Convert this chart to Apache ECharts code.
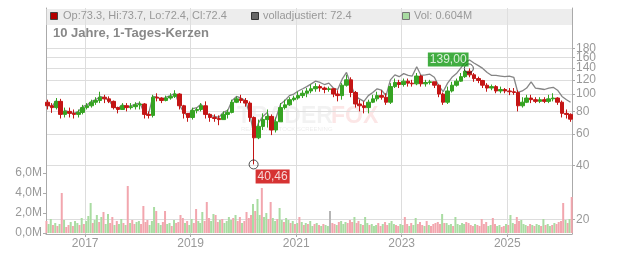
<!DOCTYPE html>
<html><head><meta charset="utf-8">
<script src="https://cdn.jsdelivr.net/npm/echarts@6/dist/echarts.min.js"></script>
<style>html,body{margin:0;padding:0;background:#fff}#c{width:632px;height:253px}</style>
</head><body><div id="c"></div>
<script>
// ---- data (monthly candles from 2016-04) ----
const startYear = 2016, startMonth = 4;
const firstOpen = 90;
const closes = [
  86,84,91,77,80,78,77,79,84,
  86,90,92,96,94,91,84,82,86,84,85,87,
  88,77,76,96,95,92,95,97,100,86,78,74,
  81,82,86,77,74,73,72,77,79,90,94,92,
  89,74,57,66,72,75,63,70,84,87,93,95,
  98,101,104,107,110,108,106,107,100,98,112,120,
  102,88,86,84,90,94,98,96,90,110,116,113,
  118,115,114,126,114,116,117,112,100,90,104,112,
  118,125,134,128,122,119,112,108,110,104,106,104,
  103,102,86,90,95,93,91,93,91,94,95,90,
  78,77,72.4
];
const highs = [
  93,89,95,94,84,84,82,82,87,
  89,93,96,103,99,97,92,85,89,89,89,90,
  91,89,80,99,101,96,98,101,105,101,87,78,
  84,84,89,91,78,77,76,80,82,93,97,99,
  95,91,75,72,78,82,77,74,89,93,96,98,
  103,105,108,113,115,113,110,110,108,105,115,128,
  124,104,93,91,93,99,103,105,101,115,122,120,
  122,122,120,131,128,120,120,117,113,102,110,117,
  122,131,137,139,131,125,120,115,113,112,110,108,
  108,108,105,96,99,99,96,96,96,99,101,96,
  92,82,78
];
const lows = [
  82,78.5,82,73,74,74,73,74,77,
  82,84,87,89,89,89,82,78,82,80,82,82,
  82,73,73,74,91,89,91,93,95,82,73,70,
  72,78,80,73,70,70,67,72,73,78,89,89,
  85,70,40.46,56,63,65,59,61,70,82,86,91,
  93,95,96,101,103,103,101,103,96,91,93,110,
  96,84,80,78,78,89,91,93,87,88,108,108,
  110,110,110,112,110,110,113,108,96,87,88,102,
  110,117,123,124,117,115,108,103,105,101,101,101,
  98.6,99,80,84,89,89,89,89,89,89,91,87,
  74,73,70
];
const adjusted = [
  87,85,92,78,81,79,78,80,85,
  87,91,93,97,95,92,85,83,87,85,86,88,
  89,78,77,97,96,93,96,98,101,87,79,75,
  83,84,88,79,76,75,74,79,81,92,97,95,
  92,77,59,69,75,79,66,74,88,92,98,100,
  104,107,110,114,118,116,113,115,108,106,121,132,
  113,97,94,91,98,102,107,105,98,120,128,125,
  130,127,126,142,127,128,129,124,111,103,115,124,
  130,140,150,155,149,144,139,132,127,127,126,125,
  126,124,102,104,108,117,108,107,106,108,109,105,
  97,93,90
];
// two volume bars per month (millions)
const volumes = [
  1.2,0.9, 1.4,0.8, 1.0,0.7, 0.9,4.0, 1.3,0.6, 0.8,1.1, 0.7,1.2, 1.0,0.8, 1.5,0.9,
  1.2,1.7, 3.0,1.0, 1.3,1.8, 1.1,1.6, 2.1,0.9, 1.9,1.0, 1.6,0.8, 1.2,0.9, 1.4,1.0, 0.8,4.7, 1.0,1.3, 0.9,1.1,
  1.2,0.9, 2.7,1.1, 1.3,0.8, 1.2,2.6, 2.2,1.0, 0.8,1.1, 2.2,0.9, 1.0,0.7, 1.3,1.0, 1.1,1.8, 1.5,1.0, 1.2,0.8,
  1.4,1.0, 2.4,1.2, 1.0,2.1, 1.2,3.1, 1.5,1.2, 1.9,1.8, 1.1,1.3, 1.4,1.0, 1.2,1.6, 1.3,1.5, 1.8,1.2, 1.6,1.0,
  1.2,2.1, 1.5,1.8, 2.9,2.2, 3.4,1.8, 4.5,1.6, 2.0,1.4, 3.1,1.5, 1.2,1.4, 2.5,1.3, 1.1,1.5, 1.3,1.0, 1.2,0.9,
  1.0,1.6, 1.1,0.8, 1.0,0.9, 1.2,0.7, 0.9,1.0, 0.8,0.7, 0.9,0.8, 0.7,2.2, 1.0,0.9, 0.8,1.1, 1.2,0.9, 1.1,1.0,
  1.3,1.1, 1.6,1.0, 1.2,0.9, 0.8,1.6, 1.0,0.8, 0.9,0.7, 0.8,1.0, 0.7,0.9, 1.1,0.8, 1.0,1.2, 0.9,0.8, 0.7,0.9,
  0.8,1.6, 0.9,0.7, 1.0,0.8, 1.5,0.9, 1.1,0.8, 0.7,1.2, 0.8,0.7, 0.9,1.0, 1.1,0.9, 1.9,1.0, 1.0,0.8, 0.9,0.7,
  1.6,0.9, 0.8,1.0, 0.9,1.1, 1.0,0.8, 0.7,0.9, 0.8,0.7, 1.4,0.9, 1.1,0.7, 0.8,1.5, 0.9,0.7, 0.8,0.6, 0.7,0.9,
  0.8,1.8, 1.0,0.9, 1.6,1.2, 1.3,0.9, 0.8,0.7, 0.9,0.8, 0.7,0.9, 0.8,0.7, 1.4,0.8, 0.9,0.7, 0.8,1.0, 0.9,1.1,
  1.2,3.0, 1.3,1.0, 1.4,3.6
];
// direction of each volume bar, one pair per month: u = up, d = down, n = unchanged
const volDirs = [
  "du","ud","ud","ud","ud","du","du","ud","ud",
  "uu","ud","uu","du","du","ud","du","du","ud","ud","ud","du",
  "ud","dd","du","uu","du","ud","du","ud","ud","dd","du","du",
  "ud","du","uu","dd","du","ud","du","du","uu","ud","ud","du",
  "dd","dd","ud","uu","du","ud","du","ud","uu","du","ud","ud",
  "ud","ud","ud","uu","du","du","du","un","dd","ud","uu","ud",
  "dd","ud","du","du","ud","uu","ud","du","dd","uu","ud","du",
  "ud","du","du","ud","dd","ud","ud","dd","dd","ud","uu","ud",
  "uu","uu","ud","dd","du","dd","dd","du","ud","du","ud","du",
  "du","ud","dd","uu","ud","du","du","ud","ud","uu","du","dd",
  "dd","ud","ud"
].join('');
const yearTicks = [2017, 2019, 2021, 2023, 2025];
const priceTicks = [20, 40, 60, 80, 100, 120, 140, 160, 180];
const lowMark = { date: [2020, 3, 12], value: 40.46, label: '40,46' };
const highMark = { date: [2024, 4, 10], value: 139.00, label: '139,00' };
const legendTexts = ['Op:73.3, Hi:73.7, Lo:72.4, Cl:72.4', 'volladjustiert: 72.4', 'Vol: 0.604M'];
const titleText = '10 Jahre, 1-Tages-Kerzen';

// ---- build ----
const mdate = (i, d) => Date.UTC(startYear, startMonth - 1 + i, d);
const candleData = closes.map((c, i) => [mdate(i, 15), i ? closes[i - 1] : firstOpen, c, lows[i], highs[i]]);
const adjData = adjusted.map((v, i) => [mdate(i, 15), v]);
const volColors = { u: '#a9dca2', d: '#f2a6ae', n: '#b5b5b5' };
const volData = volumes.map((v, i) => ({
  value: [mdate(Math.floor(i / 2), i % 2 ? 23 : 8), v],
  itemStyle: { color: volColors[volDirs[i]] || volColors.u }
}));
const yearVals = yearTicks.map(y => Date.UTC(y, 0, 1));
const xMin = Date.UTC(2016, 3, 5), xMax = Date.UTC(2026, 2, 25);
const FONT = '"Liberation Sans", Arial, sans-serif';
const pMin = 16.56, pMax = 302;
// the library hides labels that touch their neighbours, so the crowded log ticks
// are split over two identical twin axes (every other tick on each)
const ticksA = priceTicks.filter((_, i) => i % 2 === 0);
const ticksB = priceTicks.filter((_, i) => i % 2 === 1);
const priceAxis = (ticks, line) => ({
  type: 'log', logBase: 10, gridIndex: 0, position: 'right', min: pMin, max: pMax,
  axisLine: { show: line, lineStyle: { color: '#aaa' } },
  axisTick: { show: true, length: 3, lineStyle: { color: '#aaa' }, customValues: ticks },
  axisLabel: { color: '#999', fontSize: 12, margin: 4, customValues: ticks, hideOverlap: false,
    showMinLabel: true, showMaxLabel: true, formatter: v => String(Math.round(v)) },
  splitLine: { show: true, lineStyle: { color: '#ddd' } }
});

const chart = echarts.init(document.getElementById('c'));
chart.setOption({
  animation: false,
  textStyle: { fontFamily: FONT },
  grid: [
    { left: 46, right: 60, top: 8, bottom: 19 },
    { left: 46, right: 60, top: 173, bottom: 20 }
  ],
  xAxis: [
    { type: 'value', gridIndex: 0, min: xMin, max: xMax,
      axisLine: { lineStyle: { color: '#aaa' } },
      axisTick: { length: 3, lineStyle: { color: '#aaa' }, customValues: yearVals },
      axisLabel: { color: '#999', fontSize: 12, margin: 4, customValues: yearVals,
        formatter: v => String(new Date(v).getUTCFullYear()) },
      splitLine: { show: false } },
    { type: 'value', gridIndex: 1, min: xMin, max: xMax, show: false, splitLine: { show: false } }
  ],
  yAxis: [
    priceAxis(ticksA, true),
    { type: 'value', gridIndex: 1, position: 'left', min: 0, max: 6, interval: 2,
      axisLine: { show: false },
      axisTick: { show: true, length: 3, lineStyle: { color: '#aaa' } },
      axisLabel: { color: '#999', fontSize: 12, margin: 4,
        formatter: v => v.toFixed(1).replace('.', ',') + 'M' },
      splitLine: { show: false } },
    { type: 'value', gridIndex: 0, position: 'left',
      axisLine: { show: true, onZero: false, lineStyle: { color: '#aaa' } },
      axisTick: { show: false }, axisLabel: { show: false }, splitLine: { show: false } },
    priceAxis(ticksB, false)
  ],
  series: [
    { type: 'bar', xAxisIndex: 1, yAxisIndex: 1, data: volData, barWidth: 2, z: 1 },
    { type: 'line', xAxisIndex: 0, yAxisIndex: 0, data: adjData, symbol: 'none', z: 2,
      lineStyle: { color: '#858585', width: 1.3 },
      markLine: { silent: true, symbol: 'none', label: { show: false }, z: 0,
        lineStyle: { color: '#ddd', type: 'solid', width: 1 },
        data: yearVals.map(v => ({ xAxis: v })) } },
    { type: 'candlestick', xAxisIndex: 0, yAxisIndex: 0, data: candleData, barWidth: 4, z: 3,
      itemStyle: { color: '#35a322', color0: '#c41515', borderColor: '#35a322', borderColor0: '#c41515', borderWidth: 1 } },
    { type: 'scatter', xAxisIndex: 0, yAxisIndex: 0, z: 5, symbol: 'circle', symbolSize: 9,
      itemStyle: { color: 'rgba(0,0,0,0)', borderColor: '#222', borderWidth: 1 },
      data: [
        { value: [Date.UTC(lowMark.date[0], lowMark.date[1] - 1, lowMark.date[2]), lowMark.value],
          label: { show: true, formatter: lowMark.label, position: [7, 10], align: 'left', verticalAlign: 'top',
            color: '#fff', fontSize: 12, backgroundColor: '#cc0000', padding: [1, 2, 0, 2], lineHeight: 13 } },
        { value: [Date.UTC(highMark.date[0], highMark.date[1] - 1, highMark.date[2]), highMark.value],
          label: { show: true, formatter: highMark.label, position: [-36, -11], align: 'left', verticalAlign: 'top',
            color: '#fff', fontSize: 12, backgroundColor: '#119911', padding: [1, 2, 0, 2], lineHeight: 13 } }
      ] }
  ],
  graphic: [
    { type: 'group', silent: true, z: -10, children: [
      { type: 'text', left: 237, top: 105, style: { text: 'TRADER', font: 'bold 23px ' + FONT, fill: 'rgba(0,0,0,0.05)' } },
      { type: 'text', left: 331, top: 105, style: { text: 'FOX', font: 'bold 23px ' + FONT, fill: 'rgba(230,50,50,0.12)' } },
      { type: 'text', left: 241, top: 126, style: { text: 'REAL-TIME STOCK SCREENING', font: '6px ' + FONT, fill: 'rgba(0,0,0,0.08)' } }
    ] },
    { type: 'rect', left: 46, top: 9, shape: { width: 526, height: 16 }, style: { fill: 'rgba(225,225,225,0.6)' }, z: 10 },
    { type: 'rect', left: 50, top: 12, shape: { width: 7, height: 7 }, style: { fill: '#b40000', stroke: '#444', lineWidth: 1 }, z: 11 },
    { type: 'text', left: 63, top: 10, style: { text: legendTexts[0], font: '11px ' + FONT, fill: '#999' }, z: 11 },
    { type: 'rect', left: 251, top: 12, shape: { width: 7, height: 7 }, style: { fill: '#666', stroke: '#333', lineWidth: 1 }, z: 11 },
    { type: 'text', left: 263, top: 10, style: { text: legendTexts[1], font: '11px ' + FONT, fill: '#999' }, z: 11 },
    { type: 'rect', left: 402, top: 12, shape: { width: 7, height: 7 }, style: { fill: '#a9dca2', stroke: '#777', lineWidth: 1 }, z: 11 },
    { type: 'text', left: 414, top: 10, style: { text: legendTexts[2], font: '11px ' + FONT, fill: '#999' }, z: 11 },
    { type: 'text', left: 53, top: 27, style: { text: titleText, font: 'bold 13px ' + FONT, fill: '#888' }, z: 11 }
  ]
});
</script></body></html>
